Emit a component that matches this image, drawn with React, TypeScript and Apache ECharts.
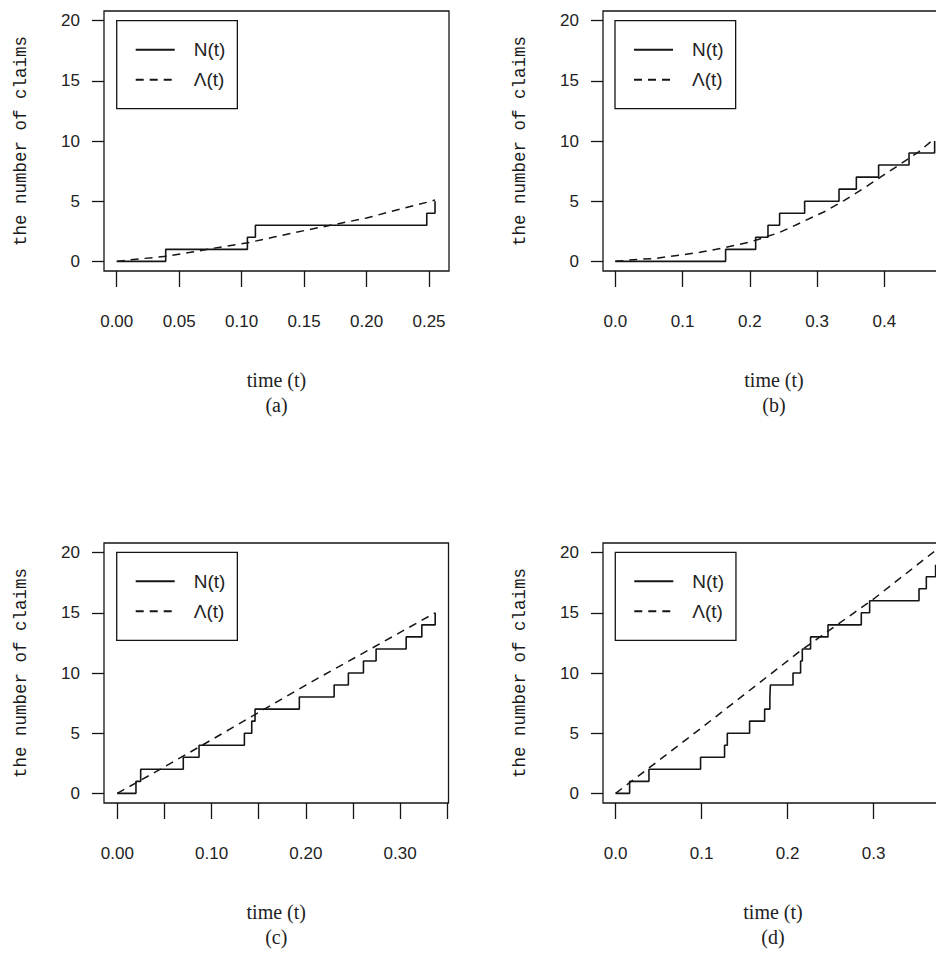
import React, { useEffect, useRef } from "react";
import * as echarts from "echarts";

// ---- tick values ----
const yTicks = [0, 5, 10, 15, 20];
const xTicksA = [0, 0.05, 0.1, 0.15, 0.2, 0.25];
const xLabelsA = [0, 0.05, 0.1, 0.15, 0.2, 0.25];
const xTicksB = [0, 0.1, 0.2, 0.3, 0.4, 0.5];
const xLabelsB = [0, 0.1, 0.2, 0.3, 0.4, 0.5];
const xTicksC = [0, 0.05, 0.1, 0.15, 0.2, 0.25, 0.3, 0.35];
const xLabelsC = [0, 0.1, 0.2, 0.3];
const xTicksD = [0, 0.1, 0.2, 0.3, 0.4];
const xLabelsD = [0, 0.1, 0.2, 0.3, 0.4];

// ---- panel (a) ----
const jumpTimesA = [0, 0.0392, 0.1046, 0.111, 0.2482, 0.2548];
const countsA = [0, 1, 2, 3, 4, 5];
const lamTimesA = [0, 0.011, 0.04, 0.059, 0.078, 0.105, 0.125, 0.152, 0.176, 0.2, 0.227, 0.248, 0.2548];
const lamA = [0, 0.14, 0.42, 0.75, 1.1, 1.55, 2.0, 2.6, 3.1, 3.6, 4.35, 4.9, 5.1];

// ---- panel (b) ----
const jumpTimesB = [0, 0.164, 0.2087, 0.227, 0.2443, 0.2815, 0.3326, 0.3584, 0.3915, 0.4367, 0.4748];
const countsB = [0, 1, 2, 3, 4, 5, 6, 7, 8, 9, 10];
const lamTimesB = [0, 0.027, 0.06, 0.1, 0.126, 0.15, 0.171, 0.2, 0.211, 0.244, 0.26, 0.3, 0.31, 0.34, 0.373, 0.389, 0.419, 0.451, 0.4748];
const lamB = [0, 0.14, 0.25, 0.55, 0.75, 1.0, 1.25, 1.6, 1.8, 2.4, 2.8, 3.85, 4.1, 5.05, 6.2, 6.8, 7.9, 9.1, 10.2];

// ---- panel (c) ----
const jumpTimesC = [0, 0.0198, 0.0248, 0.07, 0.0867, 0.1348, 0.1426, 0.1461, 0.1931, 0.23, 0.2451, 0.2611, 0.2745, 0.3064, 0.323, 0.3372];
const countsC = [0, 1, 2, 3, 4, 5, 6, 7, 8, 9, 10, 11, 12, 13, 14, 15];
const lamTimesC = [0, 0.05, 0.1, 0.2, 0.3372];
const lamC = [0, 2.2, 4.45, 9.0, 15.0];

// ---- panel (d) ----
const jumpTimesD = [0, 0.0163, 0.0388, 0.0988, 0.1267, 0.1299, 0.1558, 0.1733, 0.1794, 0.18, 0.2063, 0.2151, 0.2171, 0.2267, 0.247, 0.2857, 0.2954, 0.3528, 0.3613, 0.3721];
const countsD = [0, 1, 2, 3, 4, 5, 6, 7, 8, 9, 10, 11, 12, 13, 14, 15, 16, 17, 18, 19];
const lamTimesD = [0, 0.1, 0.216, 0.3, 0.3724];
const lamD = [0, 5.45, 11.9, 16.15, 20.2];

const captions = ["(a)", "(b)", "(c)", "(d)"];
const nName = "N(t)";
const lamName = "Λ(t)";

const INK = "#151515";
const tickFont = "'Liberation Sans', Arial, sans-serif";

const zip = (xs: number[], ys: number[]) => xs.map((x, i) => [x, ys[i]]);

const panels = [
  { left: 104, top: 11, width: 345, xmin: -0.0102, xmax: 0.266, ticks: xTicksA, labels: xLabelsA, digits: 2, legend: [116.7, 20.7], n: zip(jumpTimesA, countsA), lam: zip(lamTimesA, lamA) },
  { left: 603, top: 11, width: 342, xmin: -0.0183, xmax: 0.4902, ticks: xTicksB, labels: xLabelsB, digits: 1, legend: [615, 20.7], n: zip(jumpTimesB, countsB), lam: zip(lamTimesB, lamB) },
  { left: 104, top: 543, width: 344.5, xmin: -0.0141, xmax: 0.3513, ticks: xTicksC, labels: xLabelsC, digits: 2, legend: [116.7, 552.3], n: zip(jumpTimesC, countsC), lam: zip(lamTimesC, lamC) },
  { left: 603, top: 543, width: 340, xmin: -0.01465, xmax: 0.3807, ticks: xTicksD, labels: xLabelsD, digits: 1, legend: [615.3, 552.3], n: zip(jumpTimesD, countsD), lam: zip(lamTimesD, lamD) },
];

function buildOption() {
  const grid: any[] = [];
  const xAxis: any[] = [];
  const yAxis: any[] = [];
  const series: any[] = [];
  const legend: any[] = [];
  panels.forEach((p, i) => {
    grid.push({
      left: p.left, top: p.top, width: p.width, height: 260,
      show: true, borderColor: INK, borderWidth: 1.3, backgroundColor: "transparent",
      containLabel: false,
    });
    xAxis.push({
      type: "value", gridIndex: i, min: p.xmin, max: p.xmax,
      axisLine: { show: false, onZero: false },
      splitLine: { show: false },
      axisTick: { show: true, customValues: p.ticks, length: 16, lineStyle: { color: INK, width: 1.3 } },
      axisLabel: {
        customValues: p.labels, margin: 42, color: "#222",
        fontFamily: tickFont, fontSize: 17,
        formatter: (v: number) => v.toFixed(p.digits),
      },
      name: "time (t)\n" + captions[i], nameLocation: "middle", nameGap: 96,
      nameTextStyle: { fontFamily: "'Liberation Serif', serif", fontSize: 20, lineHeight: 25, color: "#222" },
    });
    yAxis.push({
      type: "value", gridIndex: i, min: -0.8, max: 20.8,
      axisLine: { show: false, onZero: false },
      splitLine: { show: false },
      axisTick: { show: true, customValues: yTicks, length: 12, lineStyle: { color: INK, width: 1.3 } },
      axisLabel: {
        customValues: yTicks, margin: 24, color: "#222",
        fontFamily: tickFont, fontSize: 17,
      },
      name: "the number of claims", nameLocation: "middle", nameGap: 74, nameRotate: 90,
      nameTextStyle: { fontFamily: "'Liberation Mono', monospace", fontSize: 17.5, color: "#1a1a1a" },
    });
    series.push({
      name: nName, type: "line", xAxisIndex: i, yAxisIndex: i, step: "end",
      data: p.n, symbol: "none", silent: true,
      lineStyle: { color: INK, width: 1.6, type: "solid" },
      itemStyle: { color: INK },
    });
    series.push({
      name: lamName, type: "line", xAxisIndex: i, yAxisIndex: i,
      data: p.lam, symbol: "none", silent: true,
      lineStyle: { color: INK, width: 1.5, type: [8, 6] },
      itemStyle: { color: INK },
    });
    legend.push({
      data: [nName, lamName], left: p.legend[0], top: p.legend[1], orient: "vertical",
      borderColor: INK, borderWidth: 1.3, borderRadius: 0,
      padding: [19, 12, 19, 18], itemGap: 10, itemWidth: 39, itemHeight: 20,
      selectedMode: false,
      itemStyle: { opacity: 0 },
      textStyle: { fontFamily: "'Liberation Sans', sans-serif", fontSize: 19, color: "#222", lineHeight: 20, padding: [0, 0, 0, 14] },
    });
  });
  return { animation: false, backgroundColor: "#fff", grid, xAxis, yAxis, series, legend };
}

export default function App() {
  const ref = useRef<HTMLDivElement>(null);
  useEffect(() => {
    if (!ref.current) return;
    const chart = echarts.init(ref.current, undefined, { renderer: "svg" });
    chart.setOption(buildOption() as any);
    return () => chart.dispose();
  }, []);
  return (
    <div style={{ position: "fixed", left: 0, top: 0, width: 936, height: 956, overflow: "hidden", background: "#fff" }}>
      <div ref={ref} style={{ width: 960, height: 956 }} />
    </div>
  );
}
